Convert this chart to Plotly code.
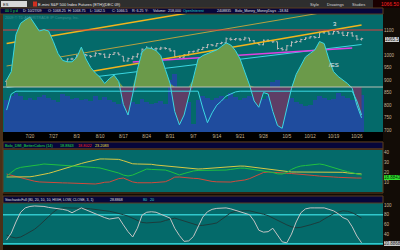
import plotly.graph_objects as go
import pandas as pd

# ---------------- data ----------------
dates = pd.bdate_range("2009-07-13", "2009-10-27")

price_open = [895,900,906,929,937, 940,949,950,952,973, 977,979,975,971,984, 988,1001,1002,997,996,
              1006,1003,991,1002,1008, 995,976,985,993,1004, 1023,1022,1025,1024,1028, 1024,1016,994,991,1000,
              1013,1016,1022,1030,1041, 1036,1046,1049,1064,1062, 1064,1061,1068,1057,1046, 1041,1059,1056,1053,1026,
              1020,1037,1050,1054,1062, 1068,1073,1070,1089,1093, 1084,1094,1088,1078,1088, 1076,1063]
price_high = [901,906,932,941,939, 950,954,955,975,978, 983,981,977,986,989, 1002,1005,1004,1000,1011,
              1008,1006,1005,1012,1010, 995,990,997,1007,1026, 1035,1033,1030,1033,1031, 1027,1019,997,1004,1016,
              1017,1025,1033,1044,1044, 1048,1053,1070,1070,1068, 1068,1073,1068,1060,1049, 1062,1063,1060,1053,1031,
              1040,1055,1058,1065,1071, 1076,1076,1093,1097,1094, 1097,1097,1094,1092,1092, 1080,1069]
price_low = [877,895,905,927,931, 937,944,944,950,963, 971,967,965,970,979, 985,996,994,989,994,
             999,988,988,1000,999, 974,974,982,989,1003, 1020,1018,1016,1020,1022, 1014,993,988,989,998,
             1010,1013,1021,1027,1035, 1034,1043,1047,1057,1058, 1056,1059,1054,1044,1040, 1039,1053,1048,1022,1018,
             1018,1034,1048,1050,1060, 1066,1066,1069,1085,1080, 1083,1085,1077,1075,1074, 1059,1058]
price_close = [899,903,930,938,937, 948,952,951,973,976, 979,976,972,984,984, 999,1002,999,994,1007,
               1004,991,1002,1009,1001, 976,986,993,1004,1023, 1022,1025,1025,1028,1026, 1017,994,991,1000,1013,
               1015,1022,1030,1041,1039, 1046,1049,1065,1062,1065, 1061,1068,1057,1047,1041, 1059,1057,1053,1026,1021,
               1037,1051,1054,1062,1068, 1073,1070,1089,1093,1084, 1094,1088,1078,1089,1076, 1063,1065.5]

volume_k = [1900,2130,2310,2130,1900, 2020,1900,2080,2190,2020, 1900,1780,2250,2130,1960, 2020,1900,1960,1840,2130,
            1900,2080,1900,1780,1660, 2130,1900,1780,1660,1960, 1780,1660,1720,1840,1660, 3080,3440,2370,2020,1780,
            470,1900,2130,2020,1900, 2020,2130,1960,2310,2080, 1900,2020,2130,2080,1900, 1960,2130,2960,3080,2190,
            1900,2020,1780,1660,1540, 1600,1900,2130,2020,1900, 1960,2310,2130,2020,1900, 2080,2190]

osc = [10,22,75,91,96, 100,90,80,82,80, 65,48,38,36,36, 42,57,40,28,20,
       14,5,12,17,8, -25,-40,-10,25,50, 56,55,52,45,25, 5,-35,-54,-40,-12,
       12,40,45,48,50, 53,58,63,60,52, 40,22,3,-20,-29, -8,-10,-35,-55,-59,
       -30,-2,18,30,43, 48,53,65,62,40, 22,15,10,5,-2, -26,-44]
osc_line2 = [-33,-10,-6,-6,-6, -6,-6,-6,-6,-6, -6,-6,-6,-6,-6, -6,-6,-6,-6,-6,
             -6,-6,-6,-6,-6, -6,-6,-6,-6,-6, -6,-6,-6,-6,-6, -6,-6,-6,-6,-6,
             -6,-6,-30,-51,-37, -26,-20,-13,-10,-7, -6,-6,-6,-6,-6, -6,-6,-6,-6,-6,
             -6,-6,-6,-6,-6, -6,-6,-6,-6,-6, -6,-6,-6,-6,-6, -20,-40]

dmi_plus = [16.5,19.8,23.5,25,25.5, 26,26.5,27.5,28.3,28, 27.7,27.5,27.3,27.3,27, 26.6,26.3,25.8,25.3,24.8,
            24.4,23.3,22.3,21,19.5, 17.5,16.6,17.5,19.5,21.5, 23.4,23,22.7,22.5,22.4, 21,19,17.6,19,20.5,
            21.5,22,22,22.2,22.3, 22.4,22.4,22.4,23,23.7, 24.3,24.2,23.5,22.8,22.2, 21.7,21.3,20,18.7,18.5,
            20,23,25,26.3,26.8, 27.3,27.8,28.3,27.5,26, 24.4,23.3,22,20.8,19.8, 18.5,17.6]
dmi_minus = [18.5,17.3,16,14.5,13.5, 12.5,11.5,10.8,10.5,10.3, 10.1,10,9.9,9.8,9.6, 9.4,9.2,9,8.8,8.8,
             9.5,10.5,10.7,12.5,14, 14.6,12.5,10.8,10,9.8, 9.8,10,10.3,10.6,11, 13,15.5,15.6,15,14.5,
             14.3,14.1,13,12,11.3, 10.9,10.7,10.7,10.7,11.5, 12,12.7,14,16,18, 20,20.5,20,19.7,19.5,
             19.2,19,18.7,18.5,18, 17.5,17,16.5,16,15.8, 15.6,15.3,15,14.7,14.6, 14.6,14.6]
adx = [15.6,15.6,15.6,15.6,15.6, 15.8,16.5,17.3,18.2,19.2, 20.5,22,23.3,24.4,25.8, 27.3,28.8,30,31.3,32.3,
       33.2,33.2,33.2,33.2,32.8, 31.5,30,28.5,28.3,28.3, 28.3,28,27.3,26.8,26.3, 25.8,25.2,24.7,24.2,23.8,
       23.5,23.4,23.6,24,24.5, 24.8,25.1,25.4,25.7,26, 26.3,26.2,25.6,25,24.4, 23.8,23.3,22.6,22,21.3,
       20.6,20.5,20.5,20.5,20.5, 20.5,20.5,20.5,20.5,20.5, 20.5,20.4,20.2,19.6,19.2, 18.8,18.5]

stoch_fast = [28,42,65,85,94, 97,98,98,97,95, 94,92,91,89,84, 89,94,90,86,81,
              77,74,71,73,74, 59,45,34,52,79, 85,86,85,81,77, 73,52,37,25,26,
              35,55,75,86,91, 93,94,94,92,89, 86,84,80,67,48, 44,45,52,38,24,
              22,40,65,84,92, 94,94,94,94,91, 88,82,74,70,55, 36,22]
stoch_slow = [38,34,32,34,39, 45,50,58,67,77, 85,92,94,94,94, 94,94,93,92,91,
              90,88,87,85,83, 80,77,73,69,64, 63,64,64,65,68, 70,73,70,67,64,
              61,58,58,59,61, 63,70,77,84,87, 88,88,88,86,84, 81,78,73,68,64,
              59,55,53,54,56, 59,62,65,71,77, 82,85,88,87,84, 79,73]

# trendlines: (start date, end date) and (start price, end price)
trend_dates = ["2009-07-13", "2009-10-27"]
trend_upper = [1046, 1285]
trend_mid = [956, 1196]
trend_lower = [876, 1120]
trend_cyan = [870, 1042]
magenta_dates = ["2009-08-19", "2009-10-23"]
magenta_prices = [972, 1028]
resistance = 1100
stoch_levels = [80, 20]

tick_dates = ["2009-07-20","2009-07-27","2009-08-03","2009-08-10","2009-08-17","2009-08-24","2009-08-31",
              "2009-09-07","2009-09-14","2009-09-21","2009-09-28","2009-10-05","2009-10-12","2009-10-19","2009-10-26"]
tick_text = ["7/20","7/27","8/3","8/10","8/17","8/24","8/31","9/7","9/14","9/21","9/28","10/5","10/12","10/19","10/26"]
price_ticks = [700, 750, 800, 850, 900, 950, 1000, 1100]
dmi_ticks = [10, 20, 30, 40]
stoch_ticks = [40, 60, 80, 100]

# ---------------- styling ----------------
TEAL = "#046a6a"
PAPER = "#120c06"
NAVY = "#06063a"
BROWN = "#5a3c1e"
CYAN = "#3ad8e2"
FONT = "Liberation Sans"
W, H = 400, 250

def px(x):
    return x / W

def py(y):
    return 1 - y / H

span = [dates[0] - pd.Timedelta(days=3), dates[-1] + pd.Timedelta(days=7)]

fig = go.Figure()

# volume bars (lowest layer, overlay y2)
fig.add_trace(go.Bar(x=dates, y=volume_k, marker=dict(color="#1f4c9e", line=dict(width=0)),
                     yaxis="y2", showlegend=False))

# oscillator (overlay y3)
pos = [max(v, 0) for v in osc]
neg = [min(v, 0) for v in osc]
fig.add_trace(go.Scatter(x=dates, y=pos, fill="tozeroy", fillcolor="#6b9a4a", mode="lines",
                         line=dict(width=0), yaxis="y3", showlegend=False))
fig.add_trace(go.Scatter(x=dates, y=neg, fill="tozeroy", fillcolor="#5e3e66", mode="lines",
                         line=dict(width=0), yaxis="y3", showlegend=False))
fig.add_trace(go.Scatter(x=dates, y=osc, mode="lines", line=dict(color=CYAN, width=1),
                         yaxis="y3", showlegend=False))
fig.add_trace(go.Scatter(x=dates, y=osc_line2, mode="lines", line=dict(color=CYAN, width=1),
                         yaxis="y3", showlegend=False))
fig.add_trace(go.Scatter(x=span, y=[0, 0], mode="lines", line=dict(color="#b8c0b4", width=1),
                         yaxis="y3", showlegend=False))

# trendlines on price axis (y)
fig.add_trace(go.Scatter(x=trend_dates, y=trend_mid, mode="lines", line=dict(color="#b8a040", width=1),
                         yaxis="y", showlegend=False))
fig.add_trace(go.Scatter(x=trend_dates, y=trend_upper, mode="lines", line=dict(color="#f2b41c", width=1.5),
                         yaxis="y", showlegend=False))
fig.add_trace(go.Scatter(x=trend_dates, y=trend_lower, mode="lines", line=dict(color="#f2b41c", width=1.5),
                         yaxis="y", showlegend=False))
fig.add_trace(go.Scatter(x=trend_dates, y=trend_cyan, mode="lines", line=dict(color=CYAN, width=1),
                         yaxis="y", showlegend=False))
fig.add_trace(go.Scatter(x=magenta_dates, y=magenta_prices, mode="lines", line=dict(color="#e040e0", width=1.5),
                         yaxis="y", showlegend=False))
fig.add_trace(go.Scatter(x=span, y=[resistance, resistance], mode="lines", line=dict(color="#e23a3a", width=1),
                         yaxis="y", showlegend=False))

# price bars
fig.add_trace(go.Ohlc(x=dates, open=price_open, high=price_high, low=price_low, close=price_close,
                      increasing=dict(line=dict(color="#b8b8b8", width=1)),
                      decreasing=dict(line=dict(color="#b8b8b8", width=1)),
                      tickwidth=0.35, yaxis="y", showlegend=False))

# DMI panel
fig.add_trace(go.Scatter(x=dates, y=dmi_minus, mode="lines", line=dict(color="#d04a3c", width=1),
                         yaxis="y4", showlegend=False))
fig.add_trace(go.Scatter(x=dates, y=adx, mode="lines", line=dict(color="#d8c844", width=1),
                         yaxis="y4", showlegend=False))
fig.add_trace(go.Scatter(x=dates, y=dmi_plus, mode="lines", line=dict(color="#20c040", width=1),
                         yaxis="y4", showlegend=False))

# Stochastic panel
for lvl in stoch_levels:
    fig.add_trace(go.Scatter(x=span, y=[lvl, lvl], mode="lines", line=dict(color="#30c8cc", width=1.5),
                             yaxis="y5", showlegend=False))
fig.add_trace(go.Scatter(x=dates, y=stoch_slow, mode="lines", line=dict(color="#1c3c3c", width=1),
                         yaxis="y5", showlegend=False))
fig.add_trace(go.Scatter(x=dates, y=stoch_fast, mode="lines", line=dict(color="#c4c4c4", width=1),
                         yaxis="y5", showlegend=False))

# ---------------- layout ----------------
X0, X1 = 3, 383
tickfont = dict(family=FONT, size=4.5, color="#c8b898")
axis_common = dict(showgrid=False, zeroline=False, showline=False, ticks="")

fig.update_layout(
    width=W, height=H, margin=dict(l=0, r=0, t=0, b=0),
    paper_bgcolor=PAPER, plot_bgcolor=TEAL, bargap=0,
    font=dict(family=FONT, size=4.5, color="#c8c8c8"),
    xaxis=dict(type="date", domain=[px(X0), px(X1)], anchor="y",
               range=["2009-07-10 05:30", "2009-11-02 14:10"],
               rangebreaks=[dict(bounds=["sat", "mon"])],
               tickvals=tick_dates, ticktext=tick_text, tickfont=tickfont,
               rangeslider=dict(visible=False), **axis_common),
    yaxis=dict(domain=[py(132), py(14)], range=[692, 1164], side="right", anchor="x",
               tickvals=price_ticks, tickfont=tickfont, **axis_common),
    yaxis2=dict(overlaying="y", range=[0, 7000], visible=False, anchor="x"),
    yaxis3=dict(overlaying="y", range=[-64.3, 104.3], visible=False, anchor="x"),
    yaxis4=dict(domain=[py(192), py(150)], range=[0.98, 41.95], side="right", anchor="x",
                tickvals=dmi_ticks, tickfont=tickfont, **axis_common),
    yaxis5=dict(domain=[py(245), py(203)], range=[17.5, 104.1], side="right", anchor="x",
                tickvals=stoch_ticks, tickfont=tickfont, **axis_common),
)

shapes = []
annotations = []

def rect(x0, y0, x1, y1, fill, line=None, lw=1):
    shapes.append(dict(type="rect", xref="paper", yref="paper", x0=px(x0), x1=px(x1), y0=py(y1), y1=py(y0),
                       fillcolor=fill, line=dict(color=line or "rgba(0,0,0,0)", width=lw if line else 0),
                       layer="below"))

def text(x, y, s, color, size=4, anchor="left", bg=None, border=None):
    annotations.append(dict(x=px(x), y=py(y), xref="paper", yref="paper", text=s, showarrow=False,
                            xanchor=anchor, yanchor="middle", font=dict(family=FONT, size=size, color=color),
                            bgcolor=bg, bordercolor=border, borderwidth=1 if border else 0, borderpad=0))

# left border strip
rect(0, 0, 3, 250, "#4a3018")
# top title bar
rect(0, 0, 400, 8, "#2e2e2e")
rect(1, 1, 27, 7, "#d8d8d8")
text(3, 4, "ES", "#202020", 4)
rect(33, 1.5, 37, 6.5, "#d03020")
text(38, 4, "E-mini S&P 500 Index Futures (ETH)(DEC 09)", "#e8e8e8", 4)
text(310, 4, "Style", "#d8d8d8", 4)
text(327, 4, "Drawings", "#d8d8d8", 4)
text(352, 4, "Studies", "#d8d8d8", 4)
rect(373, 0, 400, 8, "#1a0000")
text(399, 4, "1066.50", "#ff2020", 5, anchor="right")
# info row
rect(0, 8, 383, 14, NAVY, BROWN)
infos = [(5, "00 1 y d", "#20e040"), (23, "D: 10/27/09", "#e0e0e0"), (48, "O: 1068.25", "#e0e0e0"),
         (68, "H: 1068.75", "#e0e0e0"), (90, "L: 1062.5", "#e0e0e0"), (112, "C: 1066.5", "#e0e0e0"),
         (132, "R: 6.25", "#e0e0e0"), (145, "Y:", "#e0e0e0"), (153, "Volume:", "#e0e0e0"),
         (168, "218,000", "#e0e0e0"), (183, "OpenInterest", "#20d0d0"), (217, "2408835", "#e0e0e0"),
         (235, "Bolo_Money_MoneyDays", "#e0e0e0"), (278, "-18.84", "#e0e0e0")]
for x, s, c in infos:
    text(x, 11, s, c, 3.6)
# watermark and labels
text(5, 18, "2009 © TD AMERITRADE IP Company, Inc.", "#3f9090", 3.8)
text(335, 24, "3", "#f0f0f0", 6, anchor="center")
text(334, 65, "/ES", "#e8e8e8", 6, anchor="center")
# x-axis label strip
rect(3, 132, 383, 141, "#000000")
# DMI header
rect(3, 142, 383, 149, NAVY, BROWN)
text(5, 145.5, "Bolo_DMI_BetterColors (14)", "#20e040", 3.8)
text(60, 145.5, "18.8843", "#20e040", 3.8)
text(78, 145.5, "18.8022", "#ff2020", 3.8)
text(95, 145.5, "23.2083", "#f0e040", 3.8)
# frames
rect(3, 149, 383, 193, "rgba(0,0,0,0)", BROWN)
rect(3, 196, 383, 203, NAVY, BROWN)
text(5, 199.5, "StochasticFull (80, 20, 10, 10, HIGH, LOW, CLOSE, 3, 1)", "#e0e0e0", 3.5)
text(110, 199.5, "28.8868", "#e0e0e0", 3.5)
text(143, 199.5, "80", "#30d0d0", 3.8)
text(150, 199.5, "20", "#30d0d0", 3.8)
# right value boxes
text(392, 39, "1065.5", "#202020", 4.5, anchor="center", bg="#d0d0d0")
text(392, 177, "18.8843", "#003000", 4.5, anchor="center", bg="#30e030")
text(392, 243, "20.8868", "#202020", 4.5, anchor="center", bg="#c8c8c8")

fig.update_layout(shapes=shapes, annotations=annotations)
fig.write_html("out.html")
